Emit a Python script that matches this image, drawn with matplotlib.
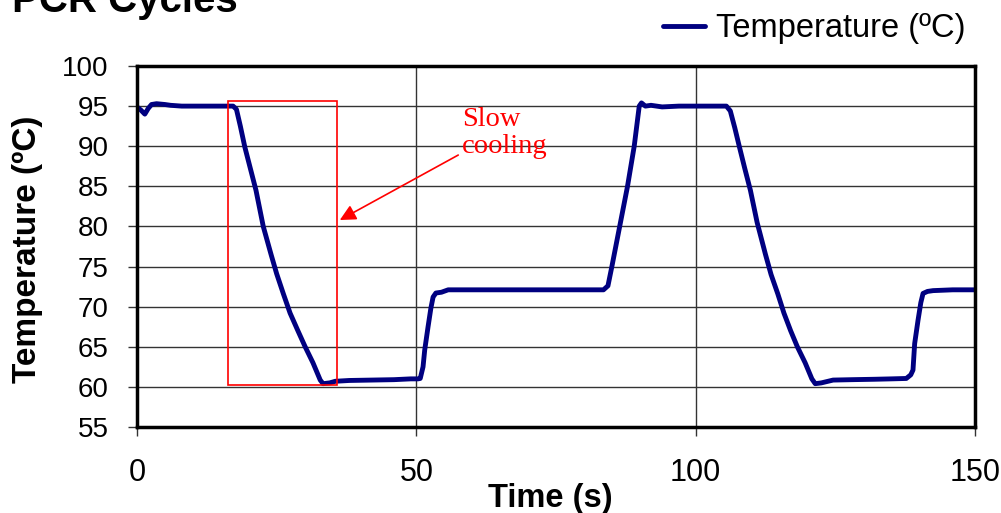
import matplotlib
matplotlib.use("Agg")
import matplotlib.pyplot as plt
from matplotlib.patches import Rectangle

# Datos: tiempo (s) y temperatura (ºC)
tiempo = [0, 0.7, 1.4, 2.0, 2.6, 3.5, 5, 6, 8, 12, 16, 17.2,
          17.8, 18.5, 19.3, 20.3, 21.3, 22.6, 24.0, 25.0, 26.2, 27.4, 28.8, 30.1, 31.5, 32.8, 33.3,
          34.5, 35.5, 38, 42, 46, 49, 50.3, 50.7,
          51.2, 51.5, 52.1, 52.6, 53.0, 53.5, 54.5, 55.7, 60, 70, 80, 83.5,
          84.3, 85.0, 86.4, 87.8, 89.0, 89.9, 90.3, 91, 92, 94, 97, 100, 103, 105.5,
          106.2, 107.0, 107.8, 108.8, 109.8, 111.0, 112.5, 113.5, 114.7, 115.8, 117.0, 118.2,
          119.6, 120.8, 121.4, 122.5, 124.6, 128, 132, 135, 137.7,
          138.5, 138.9, 139.2, 139.8, 140.3, 140.7, 141.5, 142.5, 146, 150]
temperatura = [94.9, 94.5, 94.0, 94.7, 95.2, 95.3, 95.2, 95.1, 95.0, 95.0, 95.0, 95.0,
               94.6, 92.5, 89.9, 87.2, 84.5, 80.0, 76.5, 74.1, 71.6, 69.2, 67.0, 65.0, 63.0, 60.85, 60.4,
               60.5, 60.7, 60.8, 60.85, 60.9, 61.0, 61.0, 61.05,
               62.5, 64.6, 67.5, 69.8, 71.2, 71.7, 71.8, 72.1, 72.1, 72.1, 72.1, 72.1,
               72.6, 75.0, 80.0, 85.0, 90.0, 95.0, 95.4, 95.0, 95.1, 94.9, 95.0, 95.0, 95.0, 95.0,
               94.4, 92.3, 90.0, 87.2, 84.5, 80.5, 76.5, 74.0, 71.6, 69.2, 67.0, 65.0,
               63.0, 61.0, 60.4, 60.5, 60.85, 60.9, 60.95, 61.0, 61.05,
               61.5, 62.1, 65.4, 68.3, 70.5, 71.65, 71.9, 72.0, 72.1, 72.1]

# Caja de "enfriamiento lento" y flecha (coordenadas de datos)
caja_t = (16.3, 35.8)
caja_temp = (60.2, 95.6)
flecha_inicio = (57.5, 88.9)
flecha_fin = (36.3, 80.8)

x_ticks = [0, 50, 100, 150]
y_ticks = [55, 60, 65, 70, 75, 80, 85, 90, 95, 100]

sans = "Liberation Sans"
serif = "Liberation Serif"

fig = plt.figure(figsize=(10.01, 5.13), dpi=100)
ax = fig.add_axes([137/1001, 1 - 427/513, (975-137)/1001, (427-66)/513])

ax.plot(tiempo, temperatura, color="#000080", lw=3.5, solid_capstyle="round",
        label="Temperature (ºC)", zorder=3)

ax.set_xlim(0, 150)
ax.set_ylim(55, 100)
ax.set_xticks(x_ticks)
ax.set_yticks(y_ticks)
ax.grid(True, color="#333333", lw=1, zorder=1)
for s in ax.spines.values():
    s.set_linewidth(2.5)
    s.set_zorder(4)

ax.tick_params(axis="both", direction="out", length=6.5, width=1, color="#333333")
ax.tick_params(axis="x", pad=16)
ax.tick_params(axis="y", pad=14)
for lab in ax.get_xticklabels():
    lab.set_fontfamily(sans)
    lab.set_fontsize(22)
for lab in ax.get_yticklabels():
    lab.set_fontfamily(sans)
    lab.set_fontsize(20)

ax.set_xlabel("Time (s)", fontfamily=sans, fontsize=23.5, fontweight="bold")
ax.set_ylabel("Temperature (ºC)", fontfamily=sans, fontsize=24, fontweight="bold")
ax.xaxis.set_label_coords(0.493, -0.155)
ax.yaxis.set_label_coords(-0.112, 0.493)

# Caja roja
ax.add_patch(Rectangle((caja_t[0], caja_temp[0]), caja_t[1] - caja_t[0],
                       caja_temp[1] - caja_temp[0], fill=False, edgecolor="red",
                       lw=1.2, zorder=5, clip_on=False))
ax.annotate("", xy=flecha_fin, xytext=flecha_inicio,
            arrowprops=dict(arrowstyle="-|>", color="red", lw=1.2,
                            mutation_scale=24, shrinkA=0, shrinkB=0), zorder=5)
ax.text(58.2, 89.15, "Slow\ncooling", color="red", fontfamily=serif, fontsize=20.5,
        ha="left", va="baseline", linespacing=1.12, zorder=5)

# Leyenda fuera del area de trazado
fig.legend(loc="center left", bbox_to_anchor=(663/1001, 1 - 29/513), frameon=False,
           borderpad=0, borderaxespad=0, handlelength=1.3, handletextpad=0.33,
           prop={"family": sans, "size": 23.5})

# Titulo cortado en la parte superior
fig.text(12/1001, 1 - 12/513, "PCR Cycles", fontfamily=sans, fontsize=29,
         fontweight="bold", ha="left", va="baseline")

fig.savefig("out.png", dpi=100)
